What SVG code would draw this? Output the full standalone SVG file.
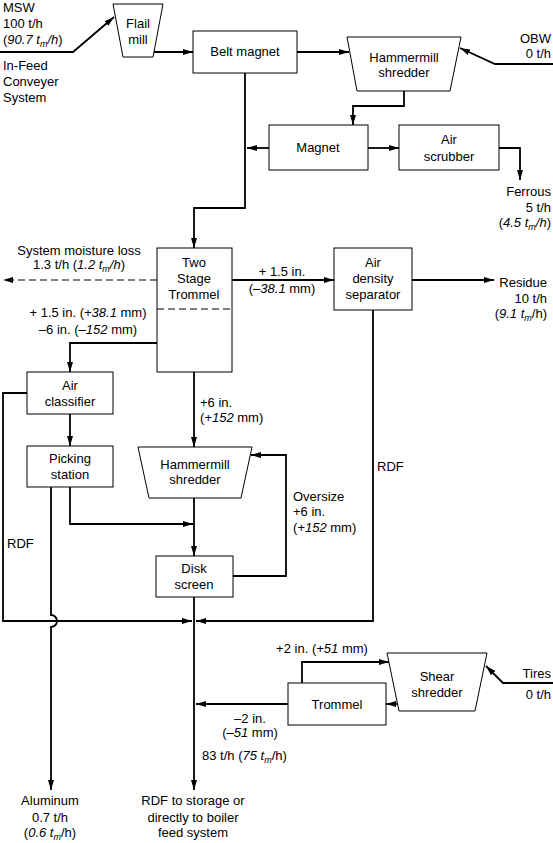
<svg xmlns="http://www.w3.org/2000/svg" width="553" height="843" viewBox="0 0 553 843">
<style>
text{font-family:"Liberation Sans",Arial,sans-serif;font-size:13px;fill:#000}
.c{text-anchor:middle}
.r{text-anchor:end}
.i{font-style:italic}
.s{font-size:9px}
.box{fill:#fff;stroke:#000;stroke-width:1}
.ln{fill:none;stroke:#000;stroke-width:1.8}
.ar{marker-end:url(#ah)}
.dash{fill:none;stroke:#000;stroke-width:1;stroke-dasharray:7,4}
</style>
<defs>
<marker id="ah" viewBox="0 0 10 6" refX="10" refY="3" markerWidth="10" markerHeight="6" orient="auto" markerUnits="userSpaceOnUse"><path d="M0,0 L10,3 L0,6 z" fill="#000"/></marker>
</defs>
<g id="connectors">
<polyline class="ln ar" points="0,52 73,52 114,17"/>
<line class="ln ar" x1="154" y1="52" x2="193" y2="52"/>
<line class="ln ar" x1="297" y1="52" x2="349" y2="52"/>
<polyline class="ln ar" points="553,64 495,64 460,48"/>
<polyline class="ln ar" points="404,91 404,106 353,106 353,125"/>
<polyline class="ln ar" points="245,73 245,208 194,208 194,248"/>
<line class="ln ar" x1="269" y1="148" x2="247" y2="148"/>
<line class="ln ar" x1="368" y1="148" x2="399" y2="148"/>
<polyline class="ln ar" points="499,148 520,148 520,180"/>
<line class="ln ar" x1="232" y1="280" x2="334" y2="280"/>
<line class="dash ar" x1="157" y1="280" x2="3" y2="280"/>
<line class="ln ar" x1="412" y1="280" x2="494" y2="280"/>
<polyline class="ln ar" points="157,343 70,343 70,372"/>
<line class="ln ar" x1="70" y1="414" x2="70" y2="446"/>
<polyline class="ln ar" points="27,393 3,393 3,621 192,621"/>
<polyline class="ln ar" points="70,487 70,524 193,524"/>
<path class="ln ar" d="M51,487 V615 A6,6 0 0 1 51,627 V790"/>
<line class="ln ar" x1="194" y1="372" x2="194" y2="447"/>
<line class="ln ar" x1="194" y1="498" x2="194" y2="556"/>
<polyline class="ln ar" points="233,576 286,576 286,455 251,455"/>
<line class="ln ar" x1="194" y1="597" x2="194" y2="790"/>
<polyline class="ln ar" points="373,310 373,621 196,621"/>
<line class="ln ar" x1="398" y1="704" x2="386" y2="704"/>
<polyline class="ln ar" points="302,683 302,662 389,662"/>
<line class="ln ar" x1="288" y1="704" x2="196" y2="704"/>
<polyline class="ln ar" points="553,683 503,683 486,666"/>
</g>
<g id="flail-mill">
<polygon class="box" points="113,4 163,4 153,57 123,57"/>
<text class="c" x="138" y="28">Flail</text>
<text class="c" x="138" y="44">mill</text>
</g>
<g id="belt-magnet">
<rect class="box" x="193" y="31" width="104" height="42"/>
<text class="c" x="245" y="56">Belt magnet</text>
</g>
<g id="hammermill-1">
<polygon class="box" points="347,37 461,37 450,91 357,91"/>
<text class="c" x="404" y="62">Hammermill</text>
<text class="c" x="404" y="77">shredder</text>
</g>
<g id="magnet">
<rect class="box" x="269" y="125" width="99" height="45"/>
<text class="c" x="318" y="152">Magnet</text>
</g>
<g id="air-scrubber">
<rect class="box" x="399" y="125" width="100" height="45"/>
<text class="c" x="449" y="144">Air</text>
<text class="c" x="449" y="161">scrubber</text>
</g>
<g id="two-stage-trommel">
<rect class="box" x="157" y="248" width="75" height="124"/>
<line class="dash" x1="157" y1="309" x2="232" y2="309"/>
<text class="c" x="194" y="267">Two</text>
<text class="c" x="194" y="283">Stage</text>
<text class="c" x="194" y="299">Trommel</text>
</g>
<g id="air-density-separator">
<rect class="box" x="334" y="248" width="78" height="62"/>
<text class="c" x="373" y="267">Air</text>
<text class="c" x="373" y="283">density</text>
<text class="c" x="373" y="299">separator</text>
</g>
<g id="air-classifier">
<rect class="box" x="27" y="372" width="86" height="42"/>
<text class="c" x="70" y="390">Air</text>
<text class="c" x="70" y="406">classifier</text>
</g>
<g id="picking-station">
<rect class="box" x="27" y="446" width="86" height="41"/>
<text class="c" x="70" y="463">Picking</text>
<text class="c" x="70" y="479">station</text>
</g>
<g id="hammermill-2">
<polygon class="box" points="138,447 252,447 241,498 149,498"/>
<text class="c" x="195" y="469">Hammermill</text>
<text class="c" x="195" y="484">shredder</text>
</g>
<g id="disk-screen">
<rect class="box" x="156" y="556" width="77" height="41"/>
<text class="c" x="194" y="573">Disk</text>
<text class="c" x="194" y="589">screen</text>
</g>
<g id="shear-shredder">
<polygon class="box" points="387,653 487,653 475,711 399,711"/>
<text class="c" x="437" y="681">Shear</text>
<text class="c" x="437" y="697">shredder</text>
</g>
<g id="trommel-2">
<rect class="box" x="288" y="683" width="98" height="42"/>
<text class="c" x="337" y="709">Trommel</text>
</g>
<g id="labels">
<text x="3" y="12">MSW</text>
<text x="3" y="28">100 t/h</text>
<text x="3" y="44">(<tspan class="i">90.7 t</tspan><tspan class="i s" dy="3">m</tspan><tspan class="i" dy="-3">/h</tspan>)</text>
<text x="3" y="70">In-Feed</text>
<text x="3" y="86">Conveyer</text>
<text x="3" y="102">System</text>
<text class="r" x="551" y="43">OBW</text>
<text class="r" x="551" y="58">0 t/h</text>
<text class="r" x="551" y="196">Ferrous</text>
<text class="r" x="551" y="212">5 t/h</text>
<text class="r" x="551" y="227">(<tspan class="i">4.5 t</tspan><tspan class="i s" dy="3">m</tspan><tspan class="i" dy="-3">/h</tspan>)</text>
<text class="c" x="79" y="255">System moisture loss</text>
<text class="c" x="79" y="269">1.3 t/h (<tspan class="i">1.2 t</tspan><tspan class="i s" dy="3">m</tspan><tspan class="i" dy="-3">/h</tspan>)</text>
<text class="c" x="88" y="317">+ 1.5 in. (<tspan class="i">+38.1</tspan> mm)</text>
<text class="c" x="88" y="334">–6 in. (<tspan class="i">–152</tspan> mm)</text>
<text class="c" x="282" y="276">+ 1.5 in.</text>
<text class="c" x="282" y="293">(<tspan class="i">–38.1</tspan> mm)</text>
<text class="r" x="547" y="287">Residue</text>
<text class="r" x="547" y="303">10 t/h</text>
<text class="r" x="547" y="318">(<tspan class="i">9.1 t</tspan><tspan class="i s" dy="3">m</tspan><tspan dy="-3">/h)</tspan></text>
<text x="200" y="407">+6 in.</text>
<text x="200" y="422">(<tspan class="i">+152</tspan> mm)</text>
<text x="7" y="548">RDF</text>
<text x="377" y="471">RDF</text>
<text x="293" y="501">Oversize</text>
<text x="293" y="516">+6 in.</text>
<text x="293" y="532">(<tspan class="i">+152</tspan> mm)</text>
<text class="c" x="322" y="653">+2 in. (<tspan class="i">+51</tspan> mm)</text>
<text class="r" x="551" y="678">Tires</text>
<text class="r" x="551" y="699">0 t/h</text>
<text class="c" x="250" y="723">–2 in.</text>
<text class="c" x="250" y="737">(<tspan class="i">–51</tspan> mm)</text>
<text x="202" y="760">83 t/h (<tspan class="i">75 t</tspan><tspan class="i s" dy="3">m</tspan><tspan dy="-3">/h)</tspan></text>
<text class="c" x="50" y="805">Aluminum</text>
<text class="c" x="50" y="822">0.7 t/h</text>
<text class="c" x="50" y="837">(<tspan class="i">0.6 t</tspan><tspan class="i s" dy="3">m</tspan><tspan dy="-3">/h)</tspan></text>
<text class="c" x="193" y="805">RDF to storage or</text>
<text class="c" x="193" y="822">directly to boiler</text>
<text class="c" x="193" y="837">feed system</text>
</g>
</svg>
